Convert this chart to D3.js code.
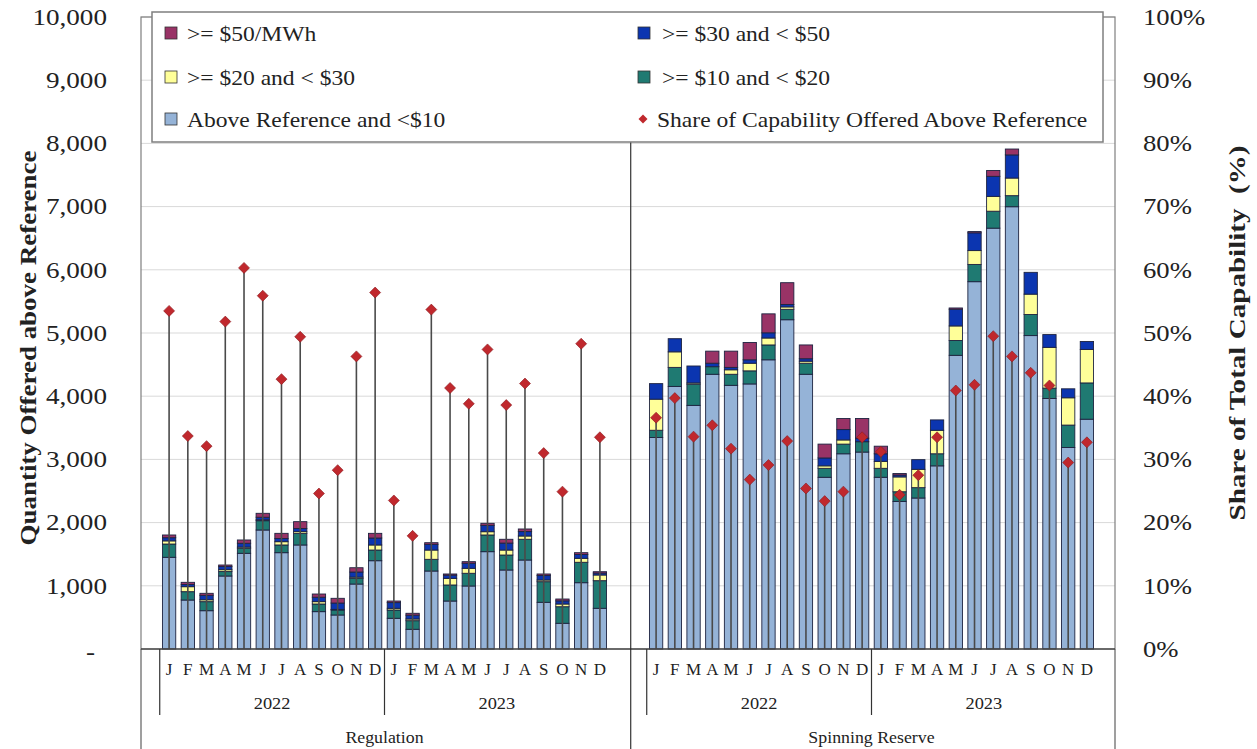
<!DOCTYPE html>
<html><head><meta charset="utf-8">
<script src="https://cdn.jsdelivr.net/npm/d3@7"></script>
<style>
body{margin:0;background:#fff}
svg{display:block}
text{font-family:"Liberation Serif","Times New Roman",serif;fill:#222}
</style>
</head><body>
<svg id="c" width="1257" height="749"></svg>
<script>
// ---------- DATA ----------
const months = ["J","F","M","A","M","J","J","A","S","O","N","D"];
const years = ["2022","2023"];
const products = ["Regulation","Spinning Reserve"];
const tierKeys = ["ref","teal","yellow","navy","maroon"];
const tierLabels = {maroon:">= $50/MWh", navy:">= $30 and < $50", yellow:">= $20 and < $30", teal:">= $10 and < $20", ref:"Above Reference and <$10"};
const shareLabel = "Share of Capability Offered Above Reference";
const leftTicks = [0,1000,2000,3000,4000,5000,6000,7000,8000,9000,10000];
const rightTicks = [0,10,20,30,40,50,60,70,80,90,100];

// Regulation (MW), Jan 2022 .. Dec 2023
const regRef    = [1451,775,606,1155,1514,1883,1524,1646,591,538,1028,1397, 486,312,1234,759,997,1540,1250,1408,739,407,1049,644];
const regTeal   = [210,132,143,70,79,147,122,184,121,79,90,169, 131,136,185,254,201,264,237,328,326,262,323,437];
const regYellow = [50,79,30,30,20,15,52,27,37,10,20,80, 27,27,147,105,79,52,79,52,27,43,63,90];
const regNavy   = [50,35,70,50,60,40,50,50,70,100,80,110, 90,60,90,50,80,100,110,70,70,50,60,30];
const regMaroon = [43,34,32,24,52,62,82,108,51,75,68,74, 25,30,26,19,25,33,60,41,25,29,29,22];
const regShare  = [53.5,33.7,32.1,51.8,60.3,55.9,42.7,49.4,24.6,28.3,46.3,56.4, 23.5,17.9,53.7,41.3,38.8,47.4,38.6,42.0,31.0,24.9,48.3,33.5];

// Spinning Reserve (MW), Jan 2022 .. Dec 2023
const spinRef    = [3346,4155,3855,4347,4172,4194,4576,5210,4347,2717,3089,3116, 2717,2335,2389,2898,4647,5812,6659,6998,4959,3964,3188,3636];
const spinTeal   = [115,301,335,120,175,207,235,165,175,142,153,164, 142,153,164,191,235,273,268,175,334,164,355,574];
const spinYellow = [492,246,20,0,71,121,110,38,32,39,66,0, 110,235,290,372,230,219,235,279,322,645,432,530];
const spinNavy   = [246,208,268,55,38,54,82,38,39,125,164,55, 120,30,153,164,264,281,317,366,345,202,142,126];
const spinMaroon = [0,0,0,191,257,274,300,345,218,219,175,312, 120,24,0,0,20,20,93,93,0,0,0,0];
const spinShare  = [36.6,39.7,33.6,35.4,31.7,26.8,29.1,32.9,25.4,23.4,24.9,33.5, 31.2,24.4,27.5,33.5,40.9,41.8,49.5,46.3,43.7,41.7,29.5,32.7];

const seriesByProduct = [
  {ref:regRef, teal:regTeal, yellow:regYellow, navy:regNavy, maroon:regMaroon, share:regShare},
  {ref:spinRef, teal:spinTeal, yellow:spinYellow, navy:spinNavy, maroon:spinMaroon, share:spinShare}
];

// ---------- STYLE ----------
const colors = {ref:"#95b3d7", teal:"#1f7a72", yellow:"#ffff99", navy:"#0b35b0", maroon:"#993366"};
const diamondColor = "#c0282d";

// ---------- BUILD ----------
const svg = d3.select("#c");
svg.append("rect").attr("width",1257).attr("height",749).attr("fill","#fff");

const L = 141, R = 1115, T = 17, B = 649;
const y = d3.scaleLinear().domain([0,10000]).range([B,T]);
const yPct = d3.scaleLinear().domain([0,100]).range([B,T]);

const keys = [];
const rows = [];
products.forEach((p,pi)=>{
  keys.push(p+"|padL");
  years.forEach((yr,yi)=>months.forEach((m,mi)=>{
    const k = p+"|"+yr+"|"+mi;
    keys.push(k);
    const i = yi*12+mi, s = seriesByProduct[pi];
    rows.push({key:k, product:pi, ref:s.ref[i], teal:s.teal[i], yellow:s.yellow[i], navy:s.navy[i], maroon:s.maroon[i], share:s.share[i]});
  }));
  keys.push(p+"|padR");
});
const x = d3.scaleBand().domain(keys).range([L,R]).paddingInner(0.29).paddingOuter(0.145);
const bw = x.bandwidth();

// gridlines
svg.append("g").selectAll("line").data(leftTicks.filter(d=>d>0)).join("line")
  .attr("x1",L).attr("x2",R).attr("y1",d=>y(d)).attr("y2",d=>y(d))
  .attr("stroke","#d9d9d9").attr("stroke-width",1);

// stacked bars
const stacked = d3.stack().keys(tierKeys)(rows);
svg.append("g").selectAll("g").data(stacked).join("g")
  .attr("fill",d=>colors[d.key])
  .selectAll("rect").data(d=>d.filter(v=>v[1]-v[0]>0)).join("rect")
  .attr("x",d=>x(d.data.key)).attr("width",bw)
  .attr("y",d=>y(d[1])).attr("height",d=>y(d[0])-y(d[1]))
  .attr("stroke","#1d2340").attr("stroke-width",0.9);

// drop lines
svg.append("g").selectAll("line").data(rows).join("line")
  .attr("x1",d=>x(d.key)+bw/2).attr("x2",d=>x(d.key)+bw/2)
  .attr("y1",d=>yPct(d.share)).attr("y2",B)
  .attr("stroke","#4a4a4a").attr("stroke-width",1.6);

// diamonds
const dPath = "M0,-5.5L5.5,0L0,5.5L-5.5,0Z";
svg.append("g").selectAll("path").data(rows).join("path")
  .attr("d",dPath)
  .attr("transform",d=>`translate(${x(d.key)+bw/2},${yPct(d.share)})`)
  .attr("fill",diamondColor).attr("stroke","#8a1a1e").attr("stroke-width",0.6);

// frame
const frame = svg.append("g").attr("stroke","#7f7f7f").attr("fill","none");
frame.append("rect").attr("x",L).attr("y",T).attr("width",R-L).attr("height",B-T).attr("stroke-width",1.2);
const divX = x(products[1]+"|padL");
frame.append("line").attr("x1",divX).attr("x2",divX).attr("y1",T).attr("y2",749).attr("stroke","#333").attr("stroke-width",1.2);
frame.append("line").attr("x1",L).attr("x2",L).attr("y1",B).attr("y2",749).attr("stroke-width",1.5);
frame.append("line").attr("x1",R).attr("x2",R).attr("y1",B).attr("y2",749).attr("stroke-width",1.5);
frame.append("line").attr("x1",L).attr("x2",R).attr("y1",B).attr("y2",B).attr("stroke","#222").attr("stroke-width",1.2);

// year dividers
const step = x.step();
products.forEach(p=>{
  years.forEach((yr,yi)=>{
    const xs = x(p+"|"+yr+"|0") - (step-bw)/2;
    svg.append("line").attr("x1",xs).attr("x2",xs).attr("y1",B).attr("y2",715)
      .attr("stroke","#333").attr("stroke-width",1.2);
  });
});

function stretch(sel,k){
  sel.each(function(){
    const w = this.getComputedTextLength();
    this.setAttribute("textLength", w*k);
    this.setAttribute("lengthAdjust","spacingAndGlyphs");
  });
}

// month / year / product labels
const cat = svg.append("g");
rows.forEach(d=>{
  const mi = +d.key.split("|")[2];
  cat.append("text").attr("class","mon").attr("x",x(d.key)+bw/2).attr("y",675)
    .attr("text-anchor","middle").attr("font-size",17).text(months[mi]);
});
products.forEach(p=>{
  years.forEach(yr=>{
    const a = x(p+"|"+yr+"|0")+bw/2, b = x(p+"|"+yr+"|11")+bw/2;
    cat.append("text").attr("class","yr").attr("x",(a+b)/2).attr("y",709)
      .attr("text-anchor","middle").attr("font-size",17).text(yr);
  });
  const a = x(p+"|padL"), b = x(p+"|padR")+bw;
  cat.append("text").attr("class","prod").attr("x",(a+b)/2).attr("y",743)
    .attr("text-anchor","middle").attr("font-size",16.5).text(p);
});
stretch(cat.selectAll("text.yr"),1.08);
stretch(cat.selectAll("text.prod"),1.08);

// left axis
const gl = svg.append("g").attr("transform","translate(107,0)")
  .call(d3.axisLeft(y).tickValues(leftTicks).tickSize(0).tickPadding(0)
    .tickFormat(d=>d===0?"-":d3.format(",")(d)));
gl.select(".domain").remove();
gl.selectAll("text").attr("font-family","Liberation Serif").attr("font-size",23).attr("fill","#262626");
gl.selectAll(".tick").filter(d=>d===0).select("text").attr("x",-12).attr("dy","0.45em");
stretch(gl.selectAll("text"),1.18);

// right axis
const gr = svg.append("g").attr("transform","translate(1143,0)")
  .call(d3.axisRight(yPct).tickValues(rightTicks).tickSize(0).tickPadding(0).tickFormat(d=>d+"%"));
gr.select(".domain").remove();
gr.selectAll("text").attr("font-family","Liberation Serif").attr("font-size",23).attr("fill","#262626");
stretch(gr.selectAll("text"),1.16);

// axis titles
svg.append("text").attr("transform","translate(36,348) rotate(-90)")
  .attr("text-anchor","middle").attr("font-size",23).attr("font-weight","bold")
  .attr("textLength",395).attr("lengthAdjust","spacingAndGlyphs")
  .text("Quantity Offered above Reference");
svg.append("text").attr("transform","translate(1245,333) rotate(-90)")
  .attr("text-anchor","middle").attr("font-size",23).attr("font-weight","bold")
  .style("white-space","pre")
  .attr("textLength",375).attr("lengthAdjust","spacingAndGlyphs")
  .text("Share of Total Capability  (%)");

// legend
const lg = svg.append("g");
lg.append("rect").attr("x",152).attr("y",12).attr("width",951).attr("height",130)
  .attr("fill","#fff").attr("stroke","#7f7f7f").attr("stroke-width",1.5);
const legendItems = [
  {k:"maroon", col:0, row:0}, {k:"navy", col:1, row:0},
  {k:"yellow", col:0, row:1}, {k:"teal", col:1, row:1},
  {k:"ref", col:0, row:2}, {k:"share", col:1, row:2}
];
const colX = [165, 638], rowY = [33, 77, 119];
legendItems.forEach(it=>{
  const cx = colX[it.col], cy = rowY[it.row];
  if(it.k==="share"){
    lg.append("path").attr("d","M0,-4.5L4.5,0L0,4.5L-4.5,0Z")
      .attr("transform",`translate(${cx+5},${cy})`).attr("fill",diamondColor);
    lg.append("text").attr("class","lt").attr("x",cx+19).attr("y",cy+8).attr("font-size",22).text(shareLabel);
  } else {
    lg.append("rect").attr("x",cx).attr("y",cy-6).attr("width",12).attr("height",12)
      .attr("fill",colors[it.k]).attr("stroke","#333").attr("stroke-width",0.8);
    lg.append("text").attr("class","lt").attr("x",cx+22+(it.col?2:0)).attr("y",cy+8).attr("font-size",22).text(tierLabels[it.k]);
  }
});
stretch(lg.selectAll("text.lt"),1.07);
</script>
</body></html>
